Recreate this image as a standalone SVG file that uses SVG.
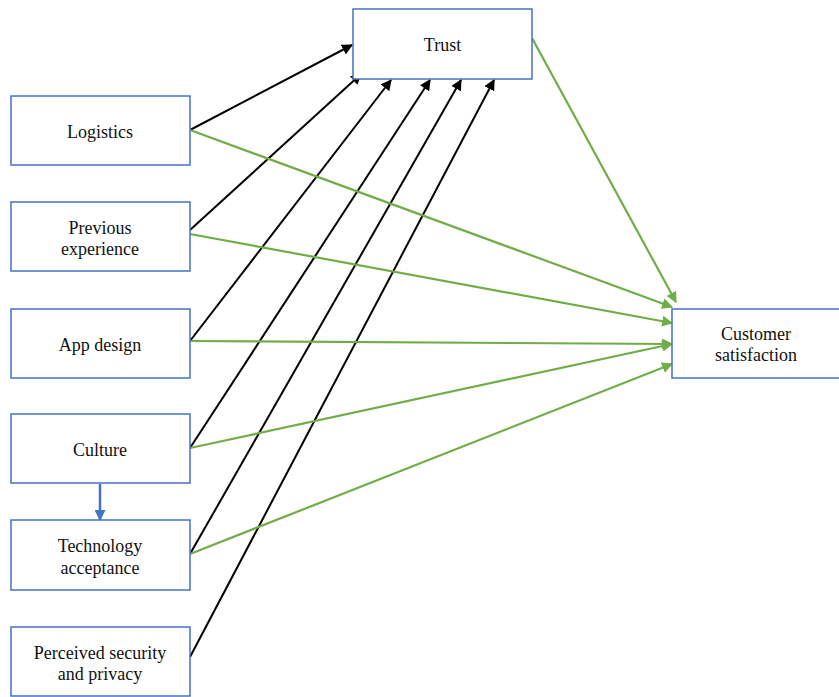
<svg xmlns="http://www.w3.org/2000/svg" width="839" height="697" viewBox="0 0 839 697">
<defs>
<style>
.box{fill:#fff;stroke:#4472C4;stroke-width:1.5}
.t{font-family:'Liberation Serif','Times New Roman',serif;font-size:18px;fill:#111;text-anchor:middle}
.k{stroke:#000;stroke-width:2;fill:none}
.g{stroke:#70AD47;stroke-width:2.2;fill:none}
.b{stroke:#4472C4;stroke-width:2.5;fill:none}
</style>
<marker id="ak" viewBox="0 0 10 10" refX="9" refY="5" markerWidth="11" markerHeight="11" orient="auto" markerUnits="userSpaceOnUse"><path d="M0,0 L10,5 L0,10 z" fill="#000"/></marker>
<marker id="ag" viewBox="0 0 10 10" refX="9" refY="5" markerWidth="11" markerHeight="11" orient="auto" markerUnits="userSpaceOnUse"><path d="M0,0 L10,5 L0,10 z" fill="#70AD47"/></marker>
<marker id="ab" viewBox="0 0 10 10" refX="9" refY="5" markerWidth="11" markerHeight="11" orient="auto" markerUnits="userSpaceOnUse"><path d="M0,0 L10,5 L0,10 z" fill="#4472C4"/></marker>
</defs>
<rect width="839" height="697" fill="#fff"/>
<g id="connectors">
<line class="k" x1="190" y1="130" x2="352" y2="45" marker-end="url(#ak)"/>
<line class="k" x1="190" y1="230" x2="361" y2="74" marker-end="url(#ak)"/>
<line class="k" x1="190" y1="341" x2="391" y2="80" marker-end="url(#ak)"/>
<line class="k" x1="190" y1="448" x2="430" y2="80" marker-end="url(#ak)"/>
<line class="k" x1="190" y1="554" x2="461" y2="80" marker-end="url(#ak)"/>
<line class="k" x1="190" y1="657" x2="494" y2="80" marker-end="url(#ak)"/>
<line class="g" x1="532" y1="38" x2="676" y2="302" marker-end="url(#ag)"/>
<line class="g" x1="190" y1="130" x2="672" y2="307" marker-end="url(#ag)"/>
<line class="g" x1="190" y1="234" x2="672" y2="323" marker-end="url(#ag)"/>
<line class="g" x1="190" y1="341" x2="672" y2="344" marker-end="url(#ag)"/>
<line class="g" x1="190" y1="448" x2="672" y2="344" marker-end="url(#ag)"/>
<line class="g" x1="190" y1="554" x2="672" y2="364" marker-end="url(#ag)"/>
<line class="b" x1="100" y1="484" x2="100" y2="520" marker-end="url(#ab)"/>
</g>
<g id="trust"><rect class="box" x="353" y="9" width="179" height="70"/><text class="t" x="442.5" y="51">Trust</text></g>
<g id="customer-satisfaction"><rect class="box" x="672" y="309" width="170" height="69"/><text class="t" x="756" y="340">Customer</text><text class="t" x="756" y="361">satisfaction</text></g>
<g id="logistics"><rect class="box" x="11" y="96" width="179" height="69"/><text class="t" x="100" y="138">Logistics</text></g>
<g id="previous-experience"><rect class="box" x="11" y="202" width="179" height="69"/><text class="t" x="100" y="234">Previous</text><text class="t" x="100" y="255">experience</text></g>
<g id="app-design"><rect class="box" x="11" y="309" width="179" height="69"/><text class="t" x="100" y="351">App design</text></g>
<g id="culture"><rect class="box" x="11" y="414" width="179" height="69"/><text class="t" x="100" y="456">Culture</text></g>
<g id="technology-acceptance"><rect class="box" x="11" y="520" width="179" height="70"/><text class="t" x="100" y="552">Technology</text><text class="t" x="100" y="574">acceptance</text></g>
<g id="perceived-security"><rect class="box" x="11" y="627" width="179" height="69"/><text class="t" x="100" y="659">Perceived security</text><text class="t" x="100" y="680">and privacy</text></g>
</svg>
